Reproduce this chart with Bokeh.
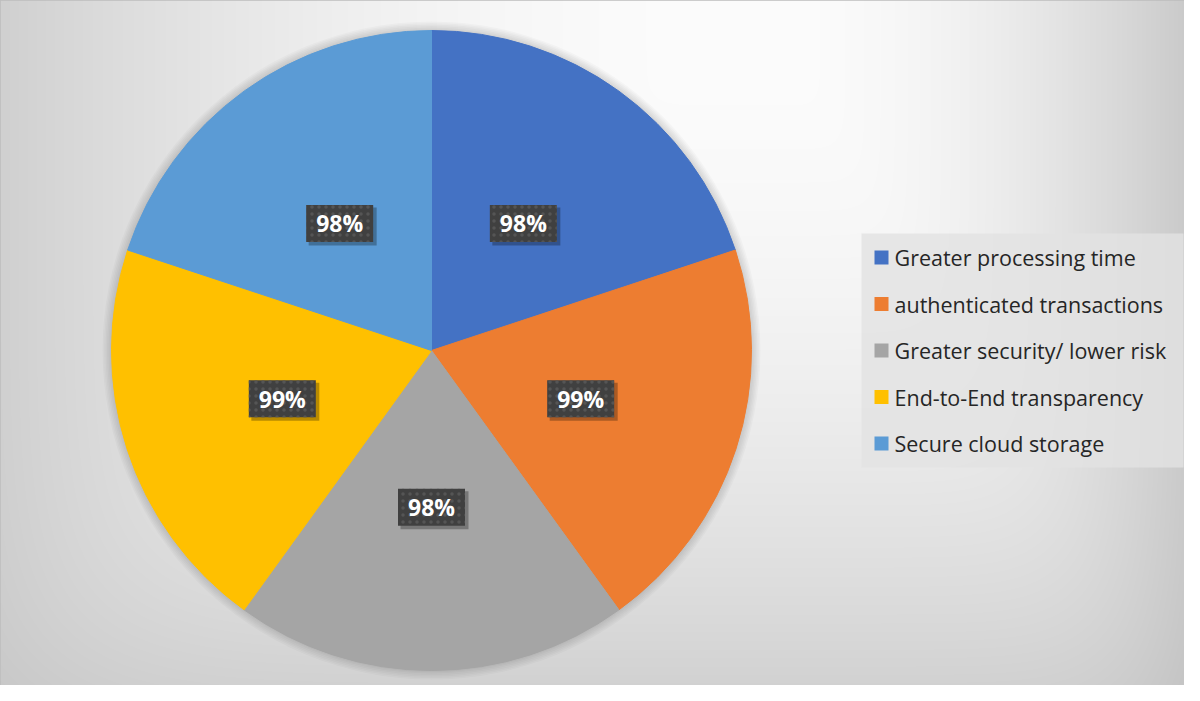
import numpy as np
from bokeh.plotting import figure
from bokeh.models import Range1d, ColumnDataSource
from bokeh.core.properties import value
from bokeh.embed import file_html
from bokeh.resources import INLINE

# ---- data ----
categories = ["Greater processing time", "authenticated transactions",
              "Greater security/ lower risk", "End-to-End transparency",
              "Secure cloud storage"]
percentages = [98, 99, 98, 99, 98]
colors = ["#4472C4", "#ED7D31", "#A5A5A5", "#FFC000", "#5B9BD5"]
labels = [f"{v}%" for v in percentages]

# ---- layout (pixel-like data space: x to right, y up) ----
W, H = 1184, 685
IMG_H = 701
X0, X1 = 0, W
Y0, Y1 = IMG_H - H, IMG_H

p = figure(width=W, height=H, output_backend="svg", toolbar_location=None,
           x_range=Range1d(X0, X1), y_range=Range1d(Y0, Y1),
           min_border=0)
p.axis.visible = False
p.grid.visible = False
p.outline_line_color = "#bdbdbd"
p.outline_line_width = 2
p.background_fill_color = "#e0e0e0"
p.border_fill_color = "white"

# ---- background: rectangular-path gradient ----
xs = np.arange(X0, X1) + 0.5
yimg = IMG_H - (np.arange(Y0, Y1) + 0.5)
XX, YY = np.meshgrid(xs, yimg)
cx, cy = 760.0, 0.0
dx = XX - cx
ax = np.where(dx < 0, 826.0, 435.0)
u = np.abs(dx) / ax
v = np.abs(YY - cy) / 760.0
r = (u ** 8 + v ** 8) ** (1 / 8)
val = np.clip(252 - 52 * r ** 2, 185, 255).astype(np.uint8)
img = np.empty((H, W), dtype=np.uint32)
view = img.view(dtype=np.uint8).reshape((H, W, 4))
view[..., 0] = val
view[..., 1] = val
view[..., 2] = val
view[..., 3] = 255
p.image_rgba(image=[img], x=X0, y=Y0, dw=W, dh=H)

# ---- pie ----
pcx, pcy, R = 431, IMG_H - 350, 320
total = float(sum(percentages))
cum = np.cumsum([0] + percentages)
start = [np.pi / 2 - 2 * np.pi * cum[i] / total for i in range(len(percentages))]
end = [np.pi / 2 - 2 * np.pi * cum[i + 1] / total for i in range(len(percentages))]
mid = [(s + e) / 2 for s, e in zip(start, end)]

# soft shadow halo
for k in range(1, 7):
    p.circle(x=[pcx], y=[pcy], radius=R + k * 1.5, fill_color="black",
             fill_alpha=0.025, line_color=None)

src = ColumnDataSource(dict(cat=categories, val=percentages, color=colors,
                            start=start, end=end))
p.wedge(x=pcx, y=pcy, radius=R, start_angle="start", end_angle="end",
        direction="clock", fill_color="color", line_color="color",
        line_width=1, source=src)

# ---- data labels ----
lr = 0.49 * R
lx = [pcx + lr * np.cos(m) for m in mid]
ly = [pcy + lr * np.sin(m) for m in mid]
lsrc = ColumnDataSource(dict(x=lx, y=ly, sx=[x + 3 for x in lx],
                             sy=[y - 3 for y in ly], text=labels))
p.rect(x="sx", y="sy", width=68, height=38, fill_color="black",
       fill_alpha=0.28, line_color=None, source=lsrc)
p.rect(x="x", y="y", width=67, height=37, fill_color="#404040",
       line_color=None, hatch_pattern="dot", hatch_color="#555555",
       hatch_scale=7, hatch_weight=1.5, source=lsrc)
p.text(x="x", y="y", text="text", text_align="center",
       text_baseline="middle", text_color="white",
       text_font=value("Open Sans"), text_font_style="bold",
       text_font_size="23px", source=lsrc)

# ---- legend (manual) ----
leg_left, leg_right = 861, 1183
leg_top, leg_bot = IMG_H - 233, IMG_H - 467
p.quad(left=[leg_left], right=[leg_right], top=[leg_top], bottom=[leg_bot],
       fill_color="#e2e2e2", fill_alpha=0.8, line_color=None)
first_y = IMG_H - 257
pitch = 46.5
ly2 = [first_y - i * pitch for i in range(len(categories))]
legsrc = ColumnDataSource(dict(y=ly2, text=categories, color=colors,
                               gx=[881] * len(categories),
                               tx=[894] * len(categories)))
p.rect(x="gx", y="y", width=14, height=14, fill_color="color",
       line_color=None, source=legsrc)
p.text(x="tx", y="y", text="text", text_align="left",
       text_baseline="middle", text_color="#262626",
       text_font=value("Open Sans"), text_font_size="21.5px", source=legsrc)

open("out.html", "w").write(file_html(p, INLINE))
